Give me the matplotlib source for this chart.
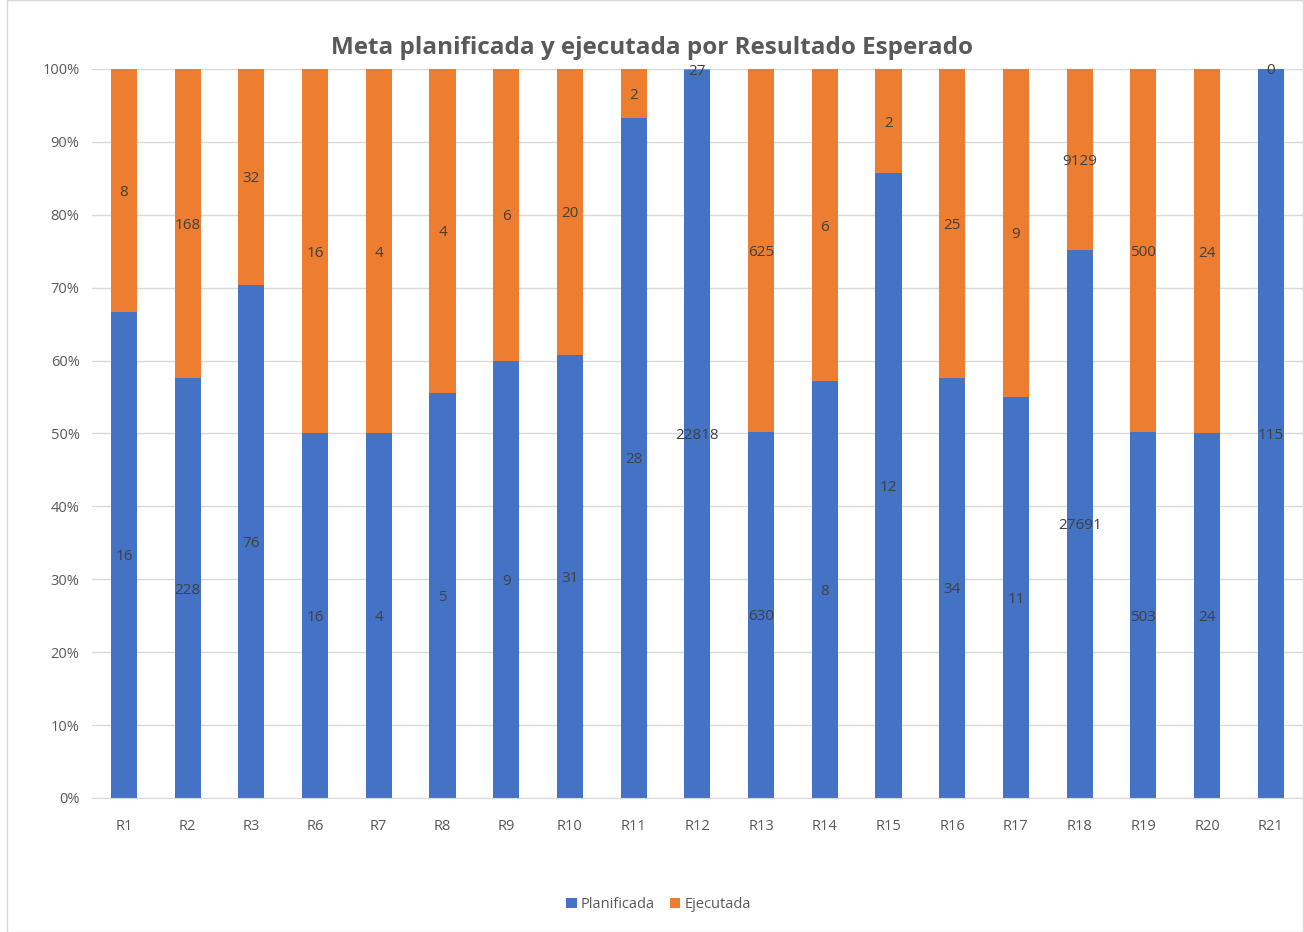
import matplotlib
matplotlib.use("Agg")
import matplotlib.pyplot as plt
from matplotlib.patches import Rectangle
import numpy as np

categories = ["R1", "R2", "R3", "R6", "R7", "R8", "R9", "R10", "R11", "R12",
              "R13", "R14", "R15", "R16", "R17", "R18", "R19", "R20", "R21"]
planificada = [16, 228, 76, 16, 4, 5, 9, 31, 28, 22818,
               630, 8, 12, 34, 11, 27691, 503, 24, 115]
ejecutada = [8, 168, 32, 16, 4, 4, 6, 20, 2, 27,
             625, 6, 2, 25, 9, 9129, 500, 24, 0]
title = "Meta planificada y ejecutada por Resultado Esperado"

plt.rcParams['font.family'] = ['Open Sans', 'DejaVu Sans']

blue = "#4472C4"
orange = "#ED7D31"
grey = "#595959"
lbl = "#404040"

fig = plt.figure(figsize=(13.04, 9.32), dpi=100)
ax = fig.add_axes([0.0706, 0.1438, 0.9284, 0.7822])

p = np.array(planificada, dtype=float)
e = np.array(ejecutada, dtype=float)
tot = p + e
pp = p / tot
ep = e / tot
x = np.arange(len(categories))
w = 0.41

ax.bar(x, pp, width=w, color=blue, zorder=2, label="Planificada")
ax.bar(x, ep, width=w, bottom=pp, color=orange, zorder=2, label="Ejecutada")

for i in range(len(categories)):
    ax.text(x[i], pp[i] / 2, str(planificada[i]), ha="center", va="center_baseline",
            fontsize=11, color=lbl, zorder=3)
    ax.text(x[i], pp[i] + ep[i] / 2, str(ejecutada[i]), ha="center", va="center_baseline",
            fontsize=11, color=lbl, zorder=3)

ax.set_xlim(-0.5, len(categories) - 0.5)
ax.set_ylim(0, 1)
ax.set_yticks(np.arange(0, 1.01, 0.1))
ax.set_yticklabels([f"{int(round(v*100))}%" for v in np.arange(0, 1.01, 0.1)])
ax.set_xticks(x)
ax.set_xticklabels(categories)
ax.tick_params(axis="both", length=0, colors=grey, labelsize=10.5)
ax.tick_params(axis="x", pad=15)
ax.tick_params(axis="y", pad=9)
ax.grid(axis="y", color="#D9D9D9", linewidth=1, zorder=0)
for s in ["top", "right", "left"]:
    ax.spines[s].set_visible(False)
ax.spines["bottom"].set_color("#D9D9D9")

fig.text(0.5, 0.948, title, ha="center", va="center", fontsize=17.5,
         fontweight="bold", color=grey)

leg = fig.legend(loc="center", bbox_to_anchor=(0.505, 0.029), ncol=2,
                 frameon=False, fontsize=10.5, handlelength=0.7, handleheight=0.7,
                 handletextpad=0.3, columnspacing=1.0)
for t in leg.get_texts():
    t.set_color(grey)

fig.patches.append(Rectangle((7/1304, 0), 1 - 7/1304 - 0.0005, 0.9995,
                             transform=fig.transFigure, fill=False,
                             edgecolor="#D9D9D9", linewidth=1))

fig.savefig("out.png", dpi=100, facecolor="white")
